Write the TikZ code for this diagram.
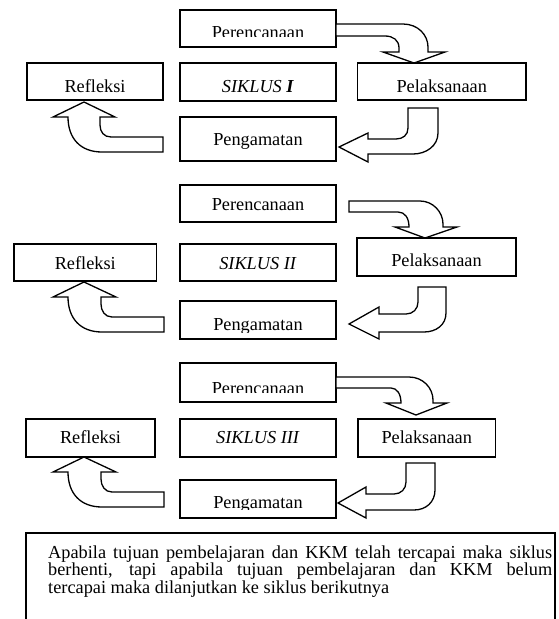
\documentclass[tikz,border=0pt]{standalone}
\usepackage{fontspec}
\setmainfont{Liberation Serif}
\begin{document}
\begin{tikzpicture}[x=1pt,y=-1pt,
  box/.style={draw, line width=1.8pt, inner sep=0pt},
  lbl/.style={anchor=base, inner sep=0pt, font=\fontsize{18.3}{20}\selectfont},
  notetext/.style={anchor=base west, inner sep=0pt, font=\fontsize{18.3}{17.5}\selectfont},
  barrow/.style={draw, fill=white, line width=1.3pt, line join=miter}]
\useasboundingbox (0,0) rectangle (558,619);

% ---------------- SIKLUS I ----------------
\node[box, minimum width=156pt, minimum height=37pt] (p1) at (258,28.5) {};
\node[box, minimum width=136pt, minimum height=37pt] (r1) at (95,81.5) {};
\node[box, minimum width=156pt, minimum height=38pt] (s1) at (258,82) {};
\node[box, minimum width=168.5pt, minimum height=37pt] (l1) at (441.75,81.5) {};
\node[box, minimum width=156pt, minimum height=44pt] (g1) at (258,139) {};
\begin{scope}
  \clip (181,11) rectangle (335,36.8);
  \node[lbl] (p1t) at (258,38) {Perencanaan};
\end{scope}
\node[lbl] (r1t) at (95,92) {Refleksi};
\node[lbl] (s1t) at (258,92) {\textit{SIKLUS \textbf{I}}};
\node[lbl] (l1t) at (441.75,92) {Pelaksanaan};
\node[lbl] (g1t) at (258,145) {Pengamatan};

\draw[barrow] (336,24) -- (403,24) .. controls (418,24) and (428,35) .. (428,47)
  -- (428,52) -- (445,52) -- (414,63) -- (383,52) -- (399,52) -- (399,48)
  .. controls (399,40) and (393,36) .. (385,36) -- (336,36) -- cycle;
\draw[barrow] (408,108) -- (438,108) -- (438,133) .. controls (438,146) and (426,154) .. (413,154)
  -- (368,154) -- (368,162) -- (339,147) -- (368,133) -- (368,139) -- (396,139)
  .. controls (403,139) and (408,135) .. (408,128) -- cycle;
\draw[barrow] (163,137) -- (111,137) .. controls (104,137) and (100,132) .. (100,125)
  -- (100,117) -- (115,117) -- (84,102) -- (53,117) -- (68,117)
  .. controls (68,138) and (80,152) .. (102,152) -- (163,152) -- cycle;

% ---------------- SIKLUS II ----------------
\node[box, minimum width=156pt, minimum height=37pt] (p2) at (258,203.5) {};
\node[box, minimum width=142.5pt, minimum height=37pt] (r2) at (85.25,262.5) {};
\node[box, minimum width=156pt, minimum height=37pt] (s2) at (258,262.5) {};
\node[box, minimum width=159pt, minimum height=38pt] (l2) at (436.5,257) {};
\node[box, minimum width=156pt, minimum height=38pt] (g2) at (258,320) {};
\node[lbl] (p2t) at (258,210) {Perencanaan};
\node[lbl] (r2t) at (85.25,269) {Refleksi};
\node[lbl] (s2t) at (258,269) {\textit{SIKLUS II}};
\node[lbl] (l2t) at (436.5,266) {Pelaksanaan};
\begin{scope}
  \clip (181,302) rectangle (335,332);
  \node[lbl] (g2t) at (258,330) {Pengamatan};
\end{scope}

\draw[barrow] (349,201) -- (420,201) .. controls (433,201) and (443,212) .. (443,224)
  -- (443,227) -- (457,227) -- (425,238) -- (395,227) -- (409,227)
  .. controls (409,218) and (405,212) .. (398,212) -- (349,212) -- cycle;
\draw[barrow] (418,287) -- (446,287) -- (446,313) .. controls (446,325) and (436,332) .. (424,332)
  -- (379,332) -- (379,339) -- (349,324) -- (379,307) -- (379,314) -- (406,314)
  .. controls (413,314) and (418,309) .. (418,302) -- cycle;
\draw[barrow] (164,317) -- (112,317) .. controls (105,317) and (101,311) .. (101,304)
  -- (101,297) -- (116,297) -- (84,282) -- (53,297) -- (68,297)
  .. controls (68,318) and (80,332) .. (102,332) -- (164,332) -- cycle;

% ---------------- SIKLUS III ----------------
\node[box, minimum width=156pt, minimum height=39pt] (p3) at (258,382.5) {};
\node[box, minimum width=129pt, minimum height=38pt] (r3) at (90.5,438) {};
\node[box, minimum width=156pt, minimum height=38pt] (s3) at (258,438) {};
\node[box, minimum width=137.5pt, minimum height=38pt] (l3) at (426.75,438) {};
\node[box, minimum width=156pt, minimum height=38pt] (g3) at (258,499) {};
\begin{scope}
  \clip (181,364) rectangle (335,392.8);
  \node[lbl] (p3t) at (258,394) {Perencanaan};
\end{scope}
\node[lbl] (r3t) at (90.5,443) {Refleksi};
\node[lbl] (s3t) at (258,443) {\textit{SIKLUS III}};
\node[lbl] (l3t) at (426.75,443) {Pelaksanaan};
\begin{scope}
  \clip (181,481) rectangle (335,509.5);
  \node[lbl] (g3t) at (258,508) {Pengamatan};
\end{scope}

\draw[barrow] (336,377) -- (409,377) .. controls (423,377) and (433,388) .. (433,400)
  -- (433,403) -- (447,403) -- (416,415) -- (386,403) -- (401,403)
  .. controls (401,394) and (397,388) .. (391,388) -- (336,388) -- cycle;
\draw[barrow] (406,463) -- (435,463) -- (435,490) .. controls (435,502) and (426,510) .. (414,510)
  -- (366,510) -- (366,518) -- (338,503) -- (366,487) -- (366,494) -- (394,494)
  .. controls (401,494) and (406,489) .. (406,482) -- cycle;
\draw[barrow] (164,492) -- (112,492) .. controls (105,492) and (101,486) .. (101,479)
  -- (101,472) -- (116,472) -- (84,457) -- (53,472) -- (68,472)
  .. controls (68,493) and (80,507) .. (102,507) -- (164,507) -- cycle;

% ---------------- note ----------------
\draw[line width=1.8pt] (26,622) -- (26,533) -- (555,533) -- (555,622);
\node[notetext] (n1) at (48,558) {\makebox[504pt][s]{Apabila tujuan pembelajaran dan KKM telah tercapai maka siklus}};
\node[notetext] (n2) at (48,575.5) {\makebox[504pt][s]{berhenti, tapi apabila tujuan pembelajaran dan KKM belum}};
\node[notetext] (n3) at (48,593) {tercapai maka dilanjutkan ke siklus berikutnya};
\end{tikzpicture}
\end{document}
